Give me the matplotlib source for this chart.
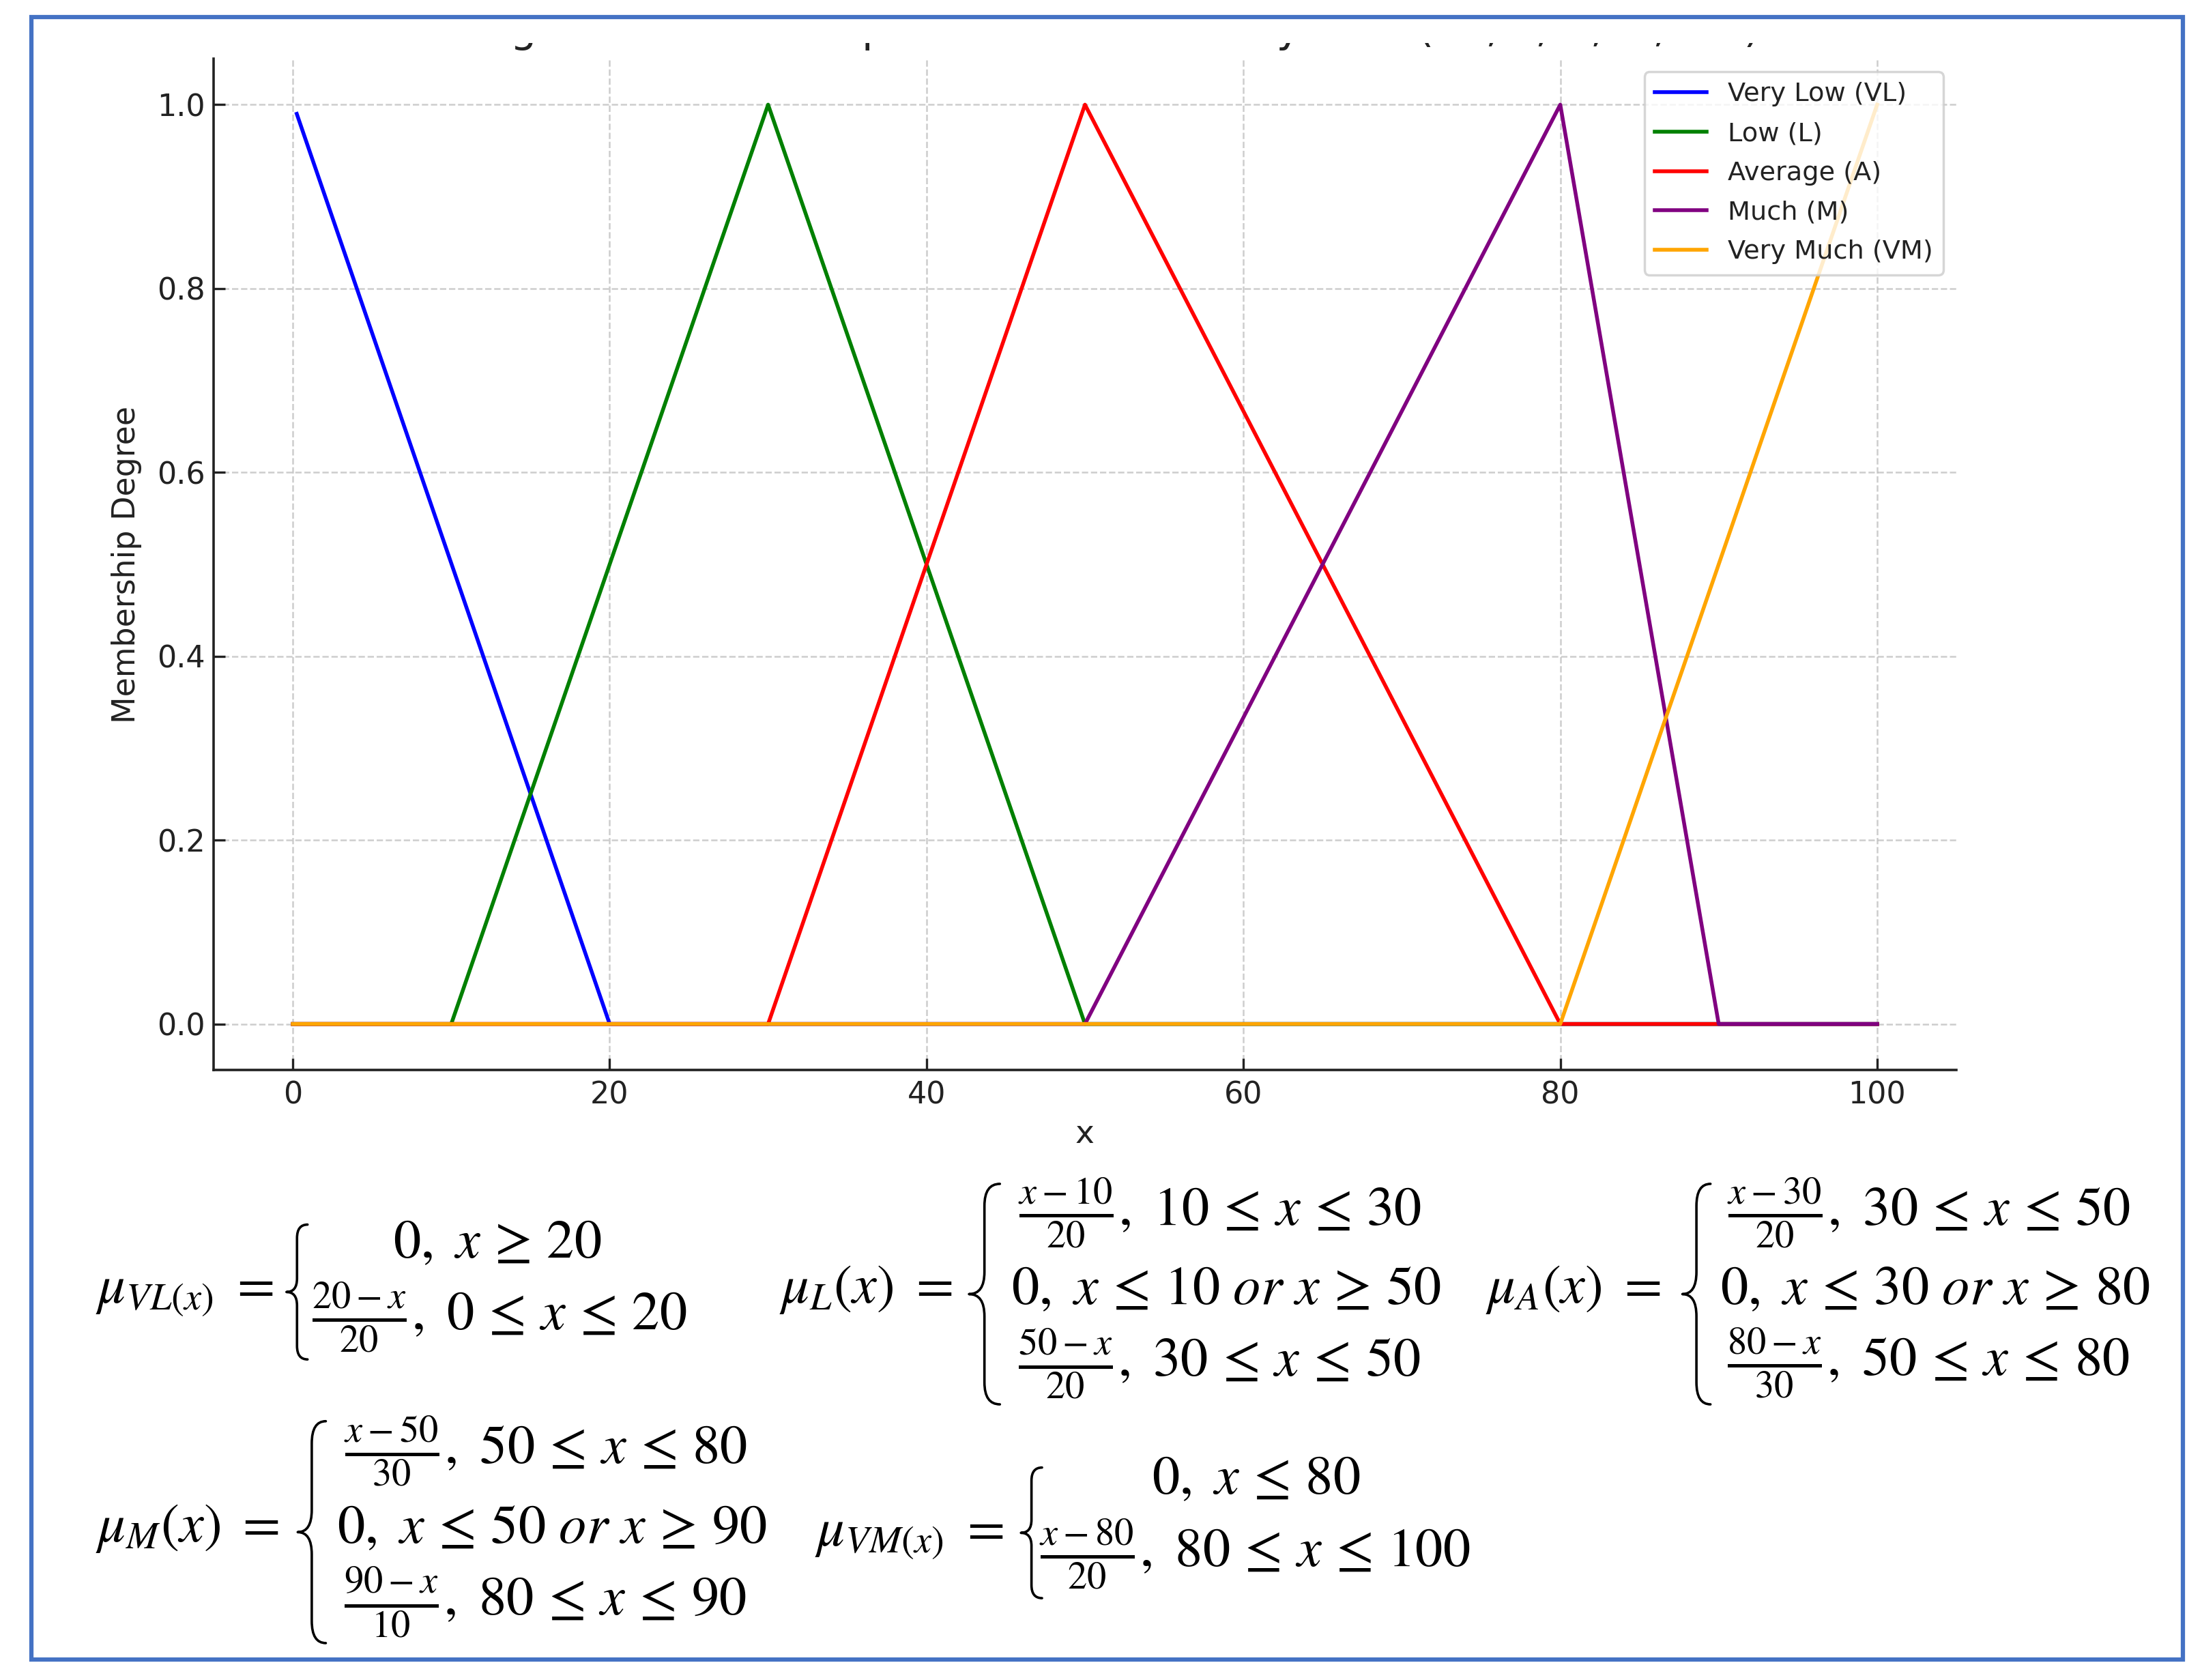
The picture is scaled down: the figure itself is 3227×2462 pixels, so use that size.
import numpy as np
import matplotlib
matplotlib.use('Agg')
import matplotlib.pyplot as plt
from matplotlib.patches import Rectangle, PathPatch
from matplotlib.path import Path

# ---------------- data ----------------
vl_x = [0.25, 20, 100]
vl_y = [0.99, 0, 0]
l_x = [0, 10, 30, 50, 100]
l_y = [0, 0, 1, 0, 0]
a_x = [0, 30, 50, 80, 100]
a_y = [0, 0, 1, 0, 0]
m_x = [0, 50, 80, 90, 100]
m_y = [0, 0, 1, 0, 0]
vm_x = [0, 80, 100]
vm_y = [0, 0, 1]
series_labels = ['Very Low (VL)', 'Low (L)', 'Average (A)', 'Much (M)', 'Very Much (VM)']
series_colors = ['blue', 'green', 'red', 'purple', 'orange']
xticks = [0, 20, 40, 60, 80, 100]
yticks = [0.0, 0.2, 0.4, 0.6, 0.8, 1.0]
title = 'Triangular Membership Functions for Fuzzy Sets (VL, L, A, M, VM)'

W, H = 3227, 2462
DPI = 100
S = 3227 / 1568.0  # preview->full scale

plt.rcParams['mathtext.fontset'] = 'stix'
plt.rcParams['font.family'] = ['DejaVu Sans']

fig = plt.figure(figsize=(W / DPI, H / DPI), dpi=DPI)
fig.patch.set_facecolor('white')

# axes placement (pixels)
ax_l, ax_r, ax_t, ax_b = 313, 2867, 86, 1568
ax = fig.add_axes([ax_l / W, 1 - ax_b / H, (ax_r - ax_l) / W, (ax_b - ax_t) / H])

xs = [vl_x, l_x, a_x, m_x, vm_x]
ys = [vl_y, l_y, a_y, m_y, vm_y]
for x, y, c, lab in zip(xs, ys, series_colors, series_labels):
    ax.plot(x, y, color=c, lw=4.0, label=lab)

ax.set_xlim(-5, 105)
ax.set_ylim(-0.05, 1.05)
ax.set_xticks(xticks)
ax.set_yticks(yticks)
ax.set_yticklabels([f'{v:.1f}' for v in yticks])
ax.tick_params(direction='in', length=12, width=2.4, labelsize=32, colors='#222222')
ax.tick_params(axis='x', pad=11)
ax.tick_params(axis='y', pad=9)
for sp in ['top', 'right']:
    ax.spines[sp].set_visible(False)
for sp in ['left', 'bottom']:
    ax.spines[sp].set_linewidth(2.6)
    ax.spines[sp].set_color('#222222')
ax.grid(True, ls='--', color='#b8b8b8', alpha=0.7, lw=1.8)
ax.set_axisbelow(True)

ax.set_xlabel('x', fontsize=34, color='#222222', va='baseline')
ax.xaxis.set_label_coords(0.5, (ax_b - 1675) / (ax_b - ax_t))
ax.set_ylabel('Membership Degree', fontsize=33, color='#222222', va='center')
ax.yaxis.set_label_coords((185 - ax_l) / (ax_r - ax_l), 0.5)

leg = ax.legend(loc='upper right', fontsize=27.5, labelspacing=0.57,
                framealpha=0.8, edgecolor='#cccccc', borderaxespad=0.5,
                handlelength=2.0, borderpad=0.4)
leg.get_frame().set_linewidth(2.5)
for t in leg.get_texts():
    t.set_color('#222222')

# title, of which only the descenders remain visible (cropped original)
fig.text(1590 / W, 1 - 61 / H, title, fontsize=44, ha='center', va='baseline',
         color='#222222', zorder=3)
fig.add_artist(Rectangle((0, 1 - 63 / H), 1, 63 / H,
                         transform=fig.transFigure, facecolor='white',
                         edgecolor='none', zorder=9))

# ---------------- equations ----------------
EQ_FS = 58


def mt(x_sh, y_sh, s, ha='left'):
    fig.text(x_sh * S / W, 1 - y_sh * S / H, s, fontsize=EQ_FS, ha=ha, va='center',
             color='black')


def brace(x0_sh, x1_sh, y0_sh, y1_sh):
    xl, xr = x0_sh * S, x1_sh * S
    yt, yb = H - y0_sh * S, H - y1_sh * S
    xm = (xl + xr) / 2
    ym = (yt + yb) / 2
    rv = min(0.1 * (yt - yb), 1.6 * (xr - xl))
    verts = [(xr, yt), (xm, yt), (xm, yt - rv), (xm, ym + rv),
             (xm, ym), (xl, ym), (xm, ym), (xm, ym - rv),
             (xm, yb + rv), (xm, yb), (xr, yb)]
    codes = [Path.MOVETO, Path.CURVE3, Path.CURVE3, Path.LINETO,
             Path.CURVE3, Path.CURVE3, Path.CURVE3, Path.CURVE3,
             Path.LINETO, Path.CURVE3, Path.CURVE3]
    verts = [(vx / W, vy / H) for vx, vy in verts]
    fig.add_artist(PathPatch(Path(verts, codes), transform=fig.transFigure,
                             facecolor='none', edgecolor='black', lw=2.6,
                             capstyle='round', joinstyle='round'))


R = r'\,'  # spacing around relations

# mu_VL
mt(68, 920, r'$\mu_{VL(x)}\ =$')
brace(204, 219, 872, 968)
mt(280, 885, r'$0,\ x' + R + r'\geq' + R + r'20$')
mt(222, 938, r'$\frac{20-x}{20},\ 0' + R + r'\leq' + R + r'x' + R + r'\leq' + R + r'20$')

# mu_L
mt(555, 918, r'$\mu_L(x)\ =$')
brace(690, 712, 843, 1000)
mt(725, 864, r'$\frac{x-10}{20},\ 10' + R + r'\leq' + R + r'x' + R + r'\leq' + R + r'30$')
mt(720, 918, r'$0,\ x' + R + r'\leq' + R + r'10\ or\ x' + R + r'\geq' + R + r'50$')
mt(725, 971, r'$\frac{50-x}{20},\ 30' + R + r'\leq' + R + r'x' + R + r'\leq' + R + r'50$')

# mu_A
mt(1058, 918, r'$\mu_A(x)\ =$')
brace(1198, 1218, 843, 1000)
mt(1230, 864, r'$\frac{x-30}{20},\ 30' + R + r'\leq' + R + r'x' + R + r'\leq' + R + r'50$')
mt(1225, 918, r'$0,\ x' + R + r'\leq' + R + r'30\ or\ x' + R + r'\geq' + R + r'80$')
mt(1230, 971, r'$\frac{80-x}{30},\ 50' + R + r'\leq' + R + r'x' + R + r'\leq' + R + r'80$')

# mu_M
mt(68, 1088, r'$\mu_M(x)\ =$')
brace(212, 232, 1012, 1170)
mt(245, 1033, r'$\frac{x-50}{30},\ 50' + R + r'\leq' + R + r'x' + R + r'\leq' + R + r'80$')
mt(240, 1088, r'$0,\ x' + R + r'\leq' + R + r'50\ or\ x' + R + r'\geq' + R + r'90$')
mt(245, 1141, r'$\frac{90-x}{10},\ 80' + R + r'\leq' + R + r'x' + R + r'\leq' + R + r'90$')

# mu_VM
mt(580, 1093, r'$\mu_{VM(x)}\ =$')
brace(727, 742, 1045, 1138)
mt(820, 1053, r'$0,\ x' + R + r'\leq' + R + r'80$')
mt(740, 1107, r'$\frac{x-80}{20},\ 80' + R + r'\leq' + R + r'x' + R + r'\leq' + R + r'100$')

# blue frame
bl, br_, bt, bb_ = 46, 3199, 25, 2432
fig.add_artist(Rectangle((bl / W, 1 - bb_ / H), (br_ - bl) / W, (bb_ - bt) / H,
                         transform=fig.transFigure, fill=False,
                         edgecolor='#4472C4', lw=4.5, zorder=10))

fig.savefig('out.png', dpi=DPI, facecolor='white')
